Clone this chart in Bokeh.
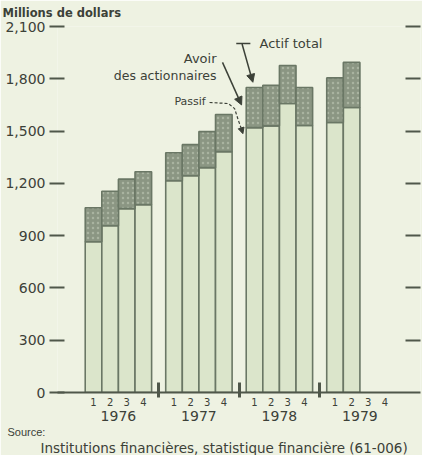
from bokeh.plotting import figure
from bokeh.models import (Range1d, LinearAxis, FixedTicker, NumeralTickFormatter,
                          Title, Arrow, NormalHead, Label, ColumnDataSource)
from bokeh.embed import file_html
from bokeh.resources import INLINE

# ---------------- data ----------------
years = ["1976", "1977", "1978", "1979"]
quarters = ["1", "2", "3", "4"]
passif = [[865, 957, 1055, 1078],
          [1215, 1244, 1290, 1382],
          [1520, 1530, 1658, 1532],
          [1549, 1635]]
actif_total = [[1060, 1155, 1224, 1267],
               [1376, 1422, 1497, 1595],
               [1750, 1763, 1876, 1750],
               [1805, 1894]]
y_ticks = [0, 300, 600, 900, 1200, 1500, 1800, 2100]

# ---------------- style ----------------
BG = "#eef2e2"
PASSIF_C = "#dbe5cb"
AVOIR_C = "#8b9683"
EDGE = "#6a7765"
TXT = "#3c4138"
AX = "#4f574a"
FONT = "DejaVu Sans"
GROUP = 4.85

xs, p_top, t_top = [], [], []
for yi, (pl, tl) in enumerate(zip(passif, actif_total)):
    for qi, (pv, tv) in enumerate(zip(pl, tl)):
        xs.append(round(yi * GROUP + qi + 0.5, 3))
        p_top.append(pv)
        t_top.append(tv)
src = ColumnDataSource(dict(x=xs, passif=p_top, total=t_top))

q_ticks = [round(yi * GROUP + qi + 0.5, 3) for yi in range(len(years)) for qi in range(4)]
q_labels = {t: quarters[i % 4] for i, t in enumerate(q_ticks)}
sep_ticks = [round(yi * GROUP + 4 + (GROUP - 4) / 2, 3) for yi in range(len(years) - 1)]
year_ticks = [round(yi * GROUP + 2, 3) for yi in range(len(years))]
year_labels = {t: years[i] for i, t in enumerate(year_ticks)}

X0, X1 = -1.67, 20.2
p = figure(width=422, height=455, x_range=Range1d(X0, X1), y_range=Range1d(0, 2100),
           output_backend="svg", toolbar_location=None, x_axis_type=None, y_axis_type=None,
           min_border_left=57, min_border_right=2, min_border_top=26, min_border_bottom=10)
p.background_fill_color = BG
p.border_fill_color = BG
p.outline_line_color = None

p.title.text = "Millions de dollars"
p.title.align = "left"
p.title.offset = -55
p.title.vertical_align = "top"
p.title.standoff = 10
p.title.text_font = FONT
p.title.text_font_size = "11.5px"
p.title.text_font_style = "bold"
p.title.text_color = TXT

# bars
p.vbar(x="x", bottom=0, top="passif", width=1, source=src,
       fill_color=PASSIF_C, line_color=EDGE, line_width=1.6)
p.vbar(x="x", bottom="passif", top="total", width=1, source=src,
       fill_color=AVOIR_C, line_color=EDGE, line_width=1.6,
       hatch_pattern="dot", hatch_color="#b7c0ab", hatch_scale=5, hatch_weight=1.1,
       hatch_alpha=0.7)

# axes
yl = LinearAxis(ticker=FixedTicker(ticks=y_ticks), formatter=NumeralTickFormatter(format="0,0"),
                axis_line_color=None, major_tick_in=7, major_tick_out=8,
                major_tick_line_width=2, major_tick_line_color=AX, minor_tick_line_color=None,
                major_label_text_font=FONT, major_label_text_font_size="14px",
                major_label_text_color=TXT, major_label_standoff=4)
p.add_layout(yl, "left")

yr = LinearAxis(ticker=FixedTicker(ticks=y_ticks[1:]),
                major_label_overrides={t: "" for t in y_ticks[1:]},
                axis_line_color=None, major_tick_in=15, major_tick_out=0,
                major_tick_line_width=2, major_tick_line_color=AX, minor_tick_line_color=None,
                major_label_standoff=0)
p.add_layout(yr, "right")

xq = LinearAxis(ticker=FixedTicker(ticks=q_ticks, minor_ticks=sep_ticks),
                major_label_overrides=q_labels,
                axis_line_width=2, axis_line_color=AX,
                major_tick_line_color=None, major_tick_in=0, major_tick_out=0,
                minor_tick_in=10, minor_tick_out=5, minor_tick_line_width=3,
                minor_tick_line_color=AX,
                major_label_text_font=FONT, major_label_text_font_size="10px",
                major_label_text_color=TXT, major_label_standoff=0)
p.add_layout(xq, "below")

xy = LinearAxis(ticker=FixedTicker(ticks=year_ticks, minor_ticks=[]),
                major_label_overrides=year_labels,
                axis_line_color=None, major_tick_line_color=None,
                major_tick_in=0, major_tick_out=0, minor_tick_line_color=None,
                major_label_text_font=FONT, major_label_text_font_size="14px",
                major_label_text_color=TXT, major_label_standoff=2)
p.add_layout(xy, "below")

p.add_layout(Title(text="Source:", align="left", offset=-50, standoff=0,
                   text_font="Liberation Sans", text_font_size="11px", text_font_style="normal",
                   text_color=TXT), "below")
p.add_layout(Title(text="Institutions financières, statistique financière (61-006)",
                   align="left", offset=-17, standoff=0,
                   text_font=FONT, text_font_size="13.5px", text_font_style="normal",
                   text_color=TXT), "below")

# annotations
lab = dict(text_font=FONT, text_color=TXT, text_font_style="normal", text_baseline="middle")
p.add_layout(Label(x=10.5, y=2003, text="Actif total", text_align="left",
                   text_font_size="13px", **lab))
p.add_layout(Label(x=7.91, y=1917, text="Avoir", text_align="right",
                   text_font_size="13px", **lab))
p.add_layout(Label(x=7.91, y=1819, text="des actionnaires", text_align="right",
                   text_font_size="12.5px", **lab))
p.add_layout(Label(x=7.26, y=1668, text="Passif", text_align="right",
                   text_font_size="11px", **lab))

p.segment(x0=[9.1], y0=[2002], x1=[9.95], y1=[2002], line_color=TXT, line_width=1.5)
p.add_layout(Arrow(end=NormalHead(size=8, fill_color=TXT, line_color=TXT),
                   x_start=9.45, y_start=2000, x_end=10.1, y_end=1780,
                   line_color=TXT, line_width=1.5))
p.add_layout(Arrow(end=NormalHead(size=8, fill_color=TXT, line_color=TXT),
                   x_start=8.27, y_start=1894, x_end=9.42, y_end=1650,
                   line_color=TXT, line_width=1.5))
p.line(x=[7.49, 8.63, 9.0, 9.23, 9.42], y=[1664, 1658, 1629, 1560, 1510],
       line_color=TXT, line_width=1.2, line_dash="3 2")
p.add_layout(Arrow(end=NormalHead(size=6, fill_color=TXT, line_color=TXT),
                   x_start=9.42, y_start=1510, x_end=9.5, y_end=1485,
                   line_color=TXT, line_width=1.2))

open("out.html", "w").write(file_html(p, INLINE))
